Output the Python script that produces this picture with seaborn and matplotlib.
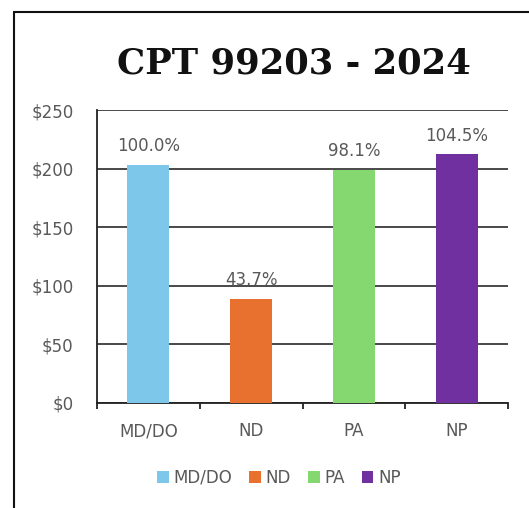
import matplotlib
matplotlib.use("Agg")
import matplotlib.pyplot as plt
import seaborn as sns
import pandas as pd
from matplotlib.patches import Patch
from matplotlib.lines import Line2D

categories = ["MD/DO", "ND", "PA", "NP"]
values = [203.0, 88.7, 199.2, 212.2]
pct_labels = ["100.0%", "43.7%", "98.1%", "104.5%"]
colors = ["#7CC7EA", "#E9712F", "#84D86F", "#7030A0"]
yticks = [0, 50, 100, 150, 200, 250]
ytick_labels = ["$0", "$50", "$100", "$150", "$200", "$250"]
title = "CPT 99203 - 2024"

sns.set_theme(style="white")
plt.rcParams["font.family"] = ["DejaVu Sans"]

W, H = 529, 508
fig = plt.figure(figsize=(W / 100, H / 100), dpi=100)
ax = fig.add_axes([97 / W, 1 - 403 / H, (508 - 97) / W, (403 - 110) / H])

df = pd.DataFrame({"cat": categories, "val": values})
sns.barplot(data=df, x="cat", y="val", hue="cat", palette=colors, order=categories,
            hue_order=categories, width=0.41, legend=False, ax=ax, saturation=1,
            linewidth=0, zorder=3)

ax.set_ylim(0, 250)
ax.set_xlim(-0.5, 3.5)
ax.set_yticks(yticks)
ax.set_yticklabels(ytick_labels)
ax.set_xlabel("")
ax.set_ylabel("")
ax.yaxis.grid(True, color="#3a3a3a", linewidth=1.3, zorder=0)
ax.set_axisbelow(True)
for s in ["top", "right"]:
    ax.spines[s].set_visible(False)
for s in ["left", "bottom"]:
    ax.spines[s].set_visible(True)
    ax.spines[s].set_color("#222222")
    ax.spines[s].set_linewidth(1.3)

ax.tick_params(axis="y", length=0, pad=17, labelsize=12, labelcolor="#595959")
ax.tick_params(axis="x", which="major", length=0, pad=14, labelsize=12, labelcolor="#595959")
ax.set_xticks([-0.5, 0.5, 1.5, 2.5, 3.5], minor=True)
ax.tick_params(axis="x", which="minor", length=4, width=1.3, color="#222222", direction="out", bottom=True)

for i, (v, lab) in enumerate(zip(values, pct_labels)):
    ax.annotate(lab, (i, v), xytext=(0, 7), textcoords="offset points",
                ha="center", va="bottom", fontsize=12, color="#595959")

fig.text(294 / W, 1 - 63 / H, title, ha="center", va="center", fontsize=25.5,
         fontweight="bold", family=["DejaVu Serif"], color="#111111")

handles = [Patch(facecolor=c, edgecolor="none", label=l) for c, l in zip(colors, categories)]
fig.legend(handles=handles, loc="center", bbox_to_anchor=(279 / W, 1 - 478 / H), ncol=4,
           frameon=False, fontsize=12, handlelength=0.7, handleheight=0.7,
           handletextpad=0.3, columnspacing=1.0, labelcolor="#595959")

fig.add_artist(Line2D([14 / W, 14 / W], [0, 1 - 12 / H], color="#111111", linewidth=1.5,
                      transform=fig.transFigure))
fig.add_artist(Line2D([14 / W, 1], [1 - 12 / H, 1 - 12 / H], color="#111111", linewidth=1.5,
                      transform=fig.transFigure))

fig.savefig("out.png", dpi=100)
